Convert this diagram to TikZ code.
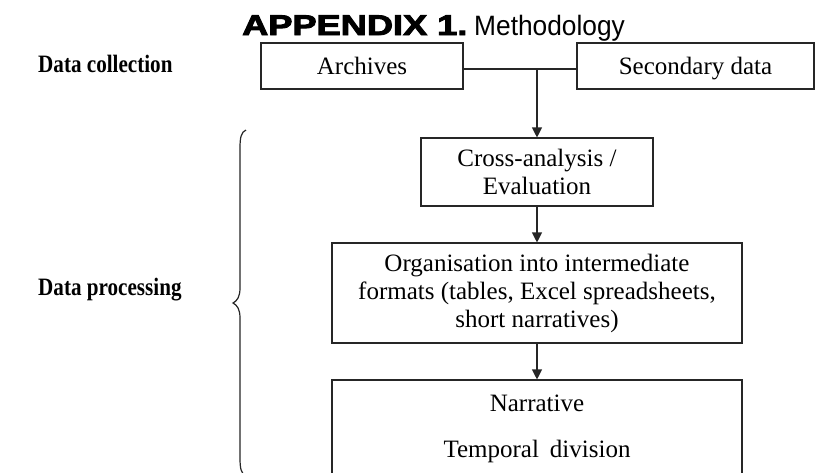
\documentclass[tikz,border=0pt]{standalone}
\usepackage{fontspec}
\setmainfont{Liberation Serif}
\newfontfamily\titlesans{Liberation Sans}
\newfontfamily\titleheavy[BoldFeatures={FakeBold=3}]{Liberation Sans}
\usetikzlibrary{arrows.meta}
\begin{document}
\begin{tikzpicture}[x=1pt,y=-1pt,
  box/.style={draw=black!85, line width=1.1pt, inner sep=0pt, font=\fontsize{25}{28}\selectfont, align=center},
  txt/.style={anchor=base, inner sep=0pt, font=\fontsize{25}{28}\selectfont},
  conn/.style={draw=black!85, line width=1.1pt},
  arr/.style={conn, -{Triangle[length=10pt,width=10pt]}},
  lab/.style={anchor=base west, inner sep=0pt, font=\fontsize{25}{28}\selectfont\bfseries},
]
\useasboundingbox (0,0) rectangle (815,472);
\clip (0,0) rectangle (815,472);
\fill[white] (0,0) rectangle (815,472);

% title
\node[anchor=base west, inner sep=0pt, font=\titleheavy\bfseries\fontsize{28.5}{30}\selectfont] (t1) at (242,35) {\scalebox{1.27}[1]{APPENDIX 1.}};
\node[anchor=base west, inner sep=0pt, font=\titlesans\fontsize{28}{30}\selectfont] (t2) at (474,35) {\scalebox{0.94}[1]{Methodology}};

% left labels
\node[lab] (dc) at (38,72) {\scalebox{0.845}[1]{Data collection}};
\node[lab] (dp) at (38,295) {\scalebox{0.845}[1]{Data processing}};

% boxes
\node[box, minimum width=202pt, minimum height=46pt, text height=17pt, text depth=0pt] (arch) at (362,66) {Archives};
\node[box, minimum width=237pt, minimum height=46pt, text height=17pt, text depth=0pt] (sec) at (695.5,66) {Secondary data};
\node[box, minimum width=232pt, minimum height=68pt] (cross) at (537,172) {Cross-analysis /\\Evaluation};
\node[box, minimum width=410pt, minimum height=100pt] (org) at (537,293) {Organisation into intermediate\\formats (tables, Excel spreadsheets,\\short narratives)};
\node[box, minimum width=410pt, minimum height=120pt] (narr) at (537,440) {};
\node[txt] (n1) at (537,411) {Narrative};
\node[txt] (n2) at (537,457) {Temporal\hspace{11pt}division};

% connectors
\coordinate (j) at (537,69);
\draw[conn] (arch.east |- j) -- (sec.west |- j);
\draw[arr] (j) -- (cross.north);
\draw[arr] (cross.south) -- (org.north);
\draw[arr] (org.south) -- (narr.north);

% brace
\draw[conn, line width=1.2pt] (246,130) .. controls (241,132) and (240,138) .. (240,148)
  -- (240,288) .. controls (240,297) and (237,301) .. (233,303)
  .. controls (237,305) and (240,309) .. (240,318)
  -- (240,458) .. controls (240,468) and (241,474) .. (246,476);
\end{tikzpicture}
\end{document}
